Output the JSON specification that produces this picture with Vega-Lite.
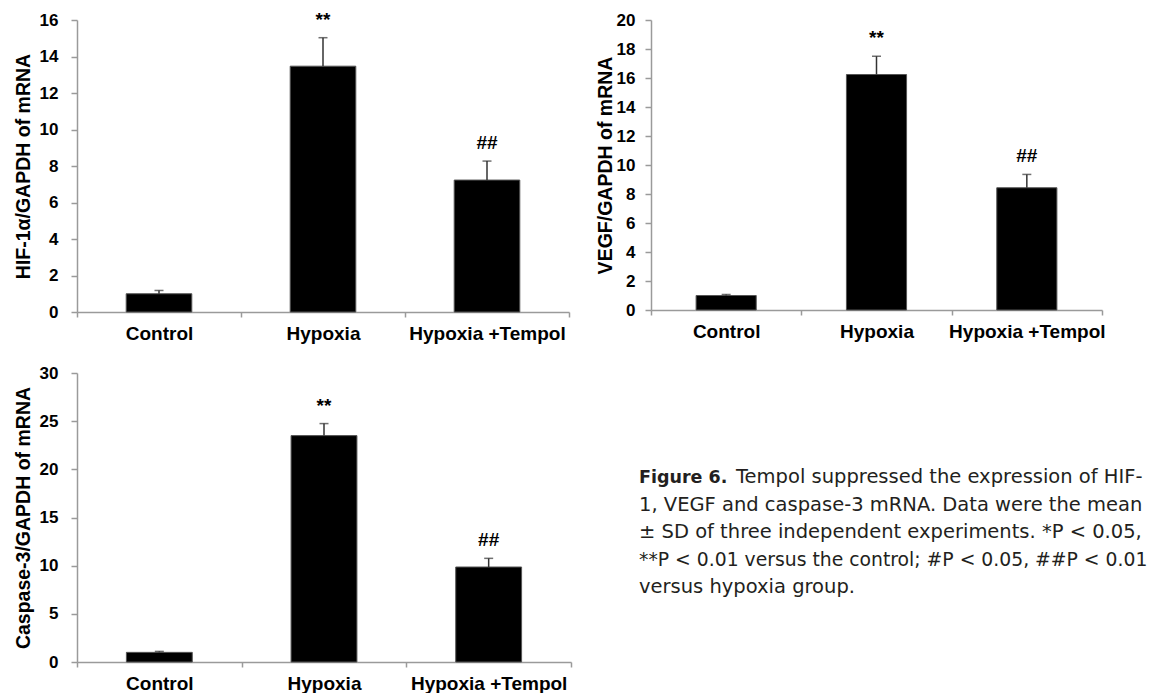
{
  "$schema": "https://vega.github.io/schema/vega-lite/v6.json",
  "background": "white",
  "padding": {"left": 13, "top": 10, "right": 0, "bottom": 0},
  "config": {
    "view": {"stroke": null},
    "axis": {
      "grid": false,
      "domainColor": "#9a9a9a",
      "domainWidth": 1.5,
      "tickColor": "#9a9a9a",
      "tickWidth": 1.5,
      "labelFont": "Liberation Sans",
      "labelFontWeight": "bold",
      "labelColor": "#000000",
      "titleFont": "Liberation Sans",
      "titleFontWeight": "bold",
      "titleColor": "#000000",
      "labelOverlap": false
    },
    "axisX": {"tickSize": 5, "labelPadding": 7, "labelFontSize": 19, "labelAngle": 0, "tickBand": "extent"},
    "axisY": {"tickSize": 6, "labelPadding": 13, "labelFontSize": 17, "titleFontSize": 19.5, "titlePadding": 6}
  },
  "datasets": {
    "hif": [
      {"group": "Control", "value": 1.0, "upper": 1.18, "sig": ""},
      {"group": "Hypoxia", "value": 13.47, "upper": 15.03, "sig": "**"},
      {"group": "Hypoxia +Tempol", "value": 7.23, "upper": 8.27, "sig": "##"}
    ],
    "vegf": [
      {"group": "Control", "value": 1.0, "upper": 1.07, "sig": ""},
      {"group": "Hypoxia", "value": 16.24, "upper": 17.5, "sig": "**"},
      {"group": "Hypoxia +Tempol", "value": 8.43, "upper": 9.35, "sig": "##"}
    ],
    "casp": [
      {"group": "Control", "value": 1.0, "upper": 1.1, "sig": ""},
      {"group": "Hypoxia", "value": 23.5, "upper": 24.75, "sig": "**"},
      {"group": "Hypoxia +Tempol", "value": 9.86, "upper": 10.76, "sig": "##"}
    ],
    "captionBold": [
      {"line": 1, "text": "Figure 6."}
    ],
    "captionFirst": [
      {"line": 1, "text": "Tempol suppressed the expression of HIF-"}
    ],
    "captionRest": [
      {"line": 2, "text": "1, VEGF and caspase-3 mRNA. Data were the mean"},
      {"line": 3, "text": "± SD of three independent experiments. *P < 0.05,"},
      {"line": 5, "text": "versus hypoxia group."}
    ],
    "captionFour": [
      {"line": 4, "text": "**P < 0.01 versus the control; #P < 0.05, ##P < 0.01"}
    ]
  },
  "spacing": 21,
  "vconcat": [
    {
      "spacing": 25,
      "hconcat": [
        {
          "width": 492,
          "height": 292,
          "data": {"name": "hif"},
          "encoding": {
            "x": {"field": "group", "type": "nominal", "sort": null, "title": null, "scale": {"paddingInner": 0, "paddingOuter": 0}}
          },
          "layer": [
            {
              "mark": {"type": "bar", "color": "#000000", "stroke": "#555555", "strokeWidth": 1, "width": {"band": 0.4}},
              "encoding": {"y": {"field": "value", "type": "quantitative", "title": "HIF-1α/GAPDH of mRNA", "scale": {"domain": [0, 16], "nice": false}, "axis": {"values": [0, 2, 4, 6, 8, 10, 12, 14, 16]}}}
            },
            {
              "mark": {"type": "rule", "color": "#333333", "strokeWidth": 1.5},
              "encoding": {"y": {"field": "value", "type": "quantitative", "title": "HIF-1α/GAPDH of mRNA", "axis": {"values": [0, 2, 4, 6, 8, 10, 12, 14, 16]}}, "y2": {"field": "upper"}}
            },
            {
              "mark": {"type": "tick", "color": "#333333", "size": 9, "thickness": 1.5},
              "encoding": {"y": {"field": "upper", "type": "quantitative", "title": "HIF-1α/GAPDH of mRNA", "axis": {"values": [0, 2, 4, 6, 8, 10, 12, 14, 16]}}}
            },
            {
              "mark": {"type": "text", "font": "Liberation Sans", "fontWeight": "bold", "fontSize": 19, "baseline": "alphabetic", "dy": -12, "color": "#000000"},
              "encoding": {"y": {"field": "upper", "type": "quantitative", "title": "HIF-1α/GAPDH of mRNA", "axis": {"values": [0, 2, 4, 6, 8, 10, 12, 14, 16]}}, "text": {"field": "sig"}}
            }
          ]
        },
        {
          "width": 451,
          "height": 290,
          "data": {"name": "vegf"},
          "encoding": {
            "x": {"field": "group", "type": "nominal", "sort": null, "title": null, "scale": {"paddingInner": 0, "paddingOuter": 0}}
          },
          "layer": [
            {
              "mark": {"type": "bar", "color": "#000000", "stroke": "#555555", "strokeWidth": 1, "width": {"band": 0.4}},
              "encoding": {"y": {"field": "value", "type": "quantitative", "title": "VEGF/GAPDH of mRNA", "scale": {"domain": [0, 20], "nice": false}, "axis": {"values": [0, 2, 4, 6, 8, 10, 12, 14, 16, 18, 20], "labelPadding": 10, "titlePadding": 1}}}
            },
            {
              "mark": {"type": "rule", "color": "#333333", "strokeWidth": 1.5},
              "encoding": {"y": {"field": "value", "type": "quantitative", "title": "VEGF/GAPDH of mRNA", "axis": {"values": [0, 2, 4, 6, 8, 10, 12, 14, 16, 18, 20], "labelPadding": 10, "titlePadding": 1}}, "y2": {"field": "upper"}}
            },
            {
              "mark": {"type": "tick", "color": "#333333", "size": 9, "thickness": 1.5},
              "encoding": {"y": {"field": "upper", "type": "quantitative", "title": "VEGF/GAPDH of mRNA", "axis": {"values": [0, 2, 4, 6, 8, 10, 12, 14, 16, 18, 20], "labelPadding": 10, "titlePadding": 1}}}
            },
            {
              "mark": {"type": "text", "font": "Liberation Sans", "fontWeight": "bold", "fontSize": 19, "baseline": "alphabetic", "dy": -12, "color": "#000000"},
              "encoding": {"y": {"field": "upper", "type": "quantitative", "title": "VEGF/GAPDH of mRNA", "axis": {"values": [0, 2, 4, 6, 8, 10, 12, 14, 16, 18, 20], "labelPadding": 10, "titlePadding": 1}}, "text": {"field": "sig"}}
            }
          ]
        }
      ]
    },
    {
      "spacing": 67,
      "hconcat": [
        {
          "width": 494,
          "height": 289,
          "data": {"name": "casp"},
          "encoding": {
            "x": {"field": "group", "type": "nominal", "sort": null, "title": null, "scale": {"paddingInner": 0, "paddingOuter": 0}}
          },
          "layer": [
            {
              "mark": {"type": "bar", "color": "#000000", "stroke": "#555555", "strokeWidth": 1, "width": {"band": 0.4}},
              "encoding": {"y": {"field": "value", "type": "quantitative", "title": "Caspase-3/GAPDH of mRNA", "scale": {"domain": [0, 30], "nice": false}, "axis": {"values": [0, 5, 10, 15, 20, 25, 30]}}}
            },
            {
              "mark": {"type": "rule", "color": "#333333", "strokeWidth": 1.5},
              "encoding": {"y": {"field": "value", "type": "quantitative", "title": "Caspase-3/GAPDH of mRNA", "axis": {"values": [0, 5, 10, 15, 20, 25, 30]}}, "y2": {"field": "upper"}}
            },
            {
              "mark": {"type": "tick", "color": "#333333", "size": 9, "thickness": 1.5},
              "encoding": {"y": {"field": "upper", "type": "quantitative", "title": "Caspase-3/GAPDH of mRNA", "axis": {"values": [0, 5, 10, 15, 20, 25, 30]}}}
            },
            {
              "mark": {"type": "text", "font": "Liberation Sans", "fontWeight": "bold", "fontSize": 19, "baseline": "alphabetic", "dy": -12, "color": "#000000"},
              "encoding": {"y": {"field": "upper", "type": "quantitative", "title": "Caspase-3/GAPDH of mRNA", "axis": {"values": [0, 5, 10, 15, 20, 25, 30]}}, "text": {"field": "sig"}}
            }
          ]
        },
        {
          "width": 513,
          "height": 302.5,
          "layer": [
            {
              "data": {"name": "captionBold"},
              "mark": {"type": "text", "align": "left", "baseline": "alphabetic", "font": "DejaVu Sans", "fontWeight": "bold", "fontSize": 17.5, "color": "#231f20"},
              "encoding": {
                "x": {"value": 0},
                "y": {"field": "line", "type": "quantitative", "scale": {"domain": [-3, 8], "nice": false, "zero": false, "reverse": true}, "axis": null},
                "text": {"field": "text"}
              }
            },
            {
              "data": {"name": "captionFirst"},
              "mark": {"type": "text", "align": "left", "baseline": "alphabetic", "font": "DejaVu Sans", "fontSize": 19.5, "color": "#231f20", "dx": 97},
              "encoding": {
                "x": {"value": 0},
                "y": {"field": "line", "type": "quantitative", "axis": null},
                "text": {"field": "text"}
              }
            },
            {
              "data": {"name": "captionRest"},
              "mark": {"type": "text", "align": "left", "baseline": "alphabetic", "font": "DejaVu Sans", "fontSize": 19.5, "color": "#231f20"},
              "encoding": {
                "x": {"value": 0},
                "y": {"field": "line", "type": "quantitative", "axis": null},
                "text": {"field": "text"}
              }
            },
            {
              "data": {"name": "captionFour"},
              "mark": {"type": "text", "align": "left", "baseline": "alphabetic", "font": "DejaVu Sans", "fontSize": 18.8, "color": "#231f20"},
              "encoding": {
                "x": {"value": 0},
                "y": {"field": "line", "type": "quantitative", "axis": null},
                "text": {"field": "text"}
              }
            }
          ]
        }
      ]
    }
  ]
}
